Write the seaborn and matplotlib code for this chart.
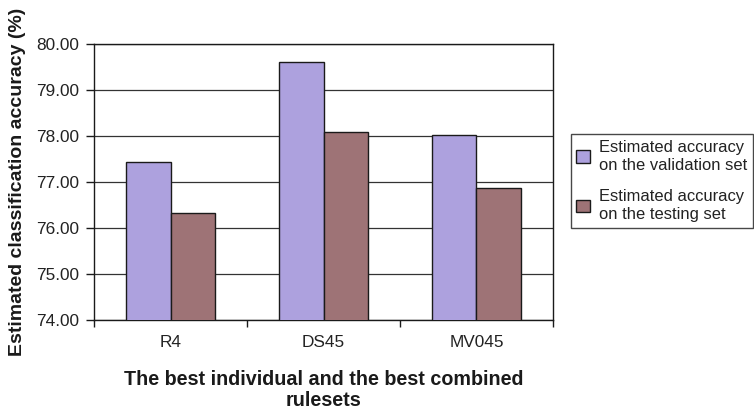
import matplotlib
matplotlib.use("Agg")
import matplotlib.pyplot as plt
import seaborn as sns
import pandas as pd

rulesets = ["R4", "DS45", "MV045"]
validation_acc = [77.43, 79.60, 78.02]
testing_acc = [76.32, 78.08, 76.88]
series_names = ["Estimated accuracy\non the validation set",
                "Estimated accuracy\non the testing set"]
y_ticks = [74, 75, 76, 77, 78, 79, 80]

df = pd.DataFrame({
    "ruleset": rulesets * 2,
    "accuracy": validation_acc + testing_acc,
    "series": [series_names[0]] * 3 + [series_names[1]] * 3,
})

sns.set_style("white")
plt.rcParams["font.family"] = ["Liberation Sans", "DejaVu Sans"]

fig = plt.figure(figsize=(7.54, 4.12), dpi=100)
ax = fig.add_axes([0.1247, 0.2233, 0.6087, 0.6699])

palette = ["#ADA1DE", "#9E7376"]
sns.barplot(data=df, x="ruleset", y="accuracy", hue="series",
            palette=palette, width=0.58, gap=0, saturation=1,
            edgecolor="#1a1a1a", linewidth=1.0, ax=ax, legend=True, zorder=3)

ax.set_ylim(74, 80)
ax.set_xlim(-0.5, 2.5)
ax.set_yticks(y_ticks)
ax.set_yticklabels([f"{v:.2f}" for v in y_ticks], fontsize=12.4, color="#222222")
ax.yaxis.grid(True, color="#333333", linewidth=0.9, zorder=0)
ax.set_axisbelow(True)

# category labels at centres, tick marks on the category boundaries
ax.tick_params(axis="x", which="major", length=0, pad=11, labelsize=12.4,
               labelcolor="#222222")
ax.set_xticks([-0.5, 0.5, 1.5, 2.5], minor=True)
ax.tick_params(axis="x", which="minor", length=5, width=1, color="#1a1a1a",
               direction="out", bottom=True)
ax.tick_params(axis="y", length=6, width=1, color="#1a1a1a", direction="out",
               left=True, pad=5)

for side in ["left", "right", "top", "bottom"]:
    ax.spines[side].set_visible(True)
    ax.spines[side].set_color("#1a1a1a")
    ax.spines[side].set_linewidth(1.0)

ax.set_xlabel("The best individual and the best combined\nrulesets",
              fontsize=14.2, fontweight="bold", color="#1a1a1a", labelpad=14,
              linespacing=1.15)
ax.set_ylabel("Estimated classification accuracy (%)", fontsize=14,
              fontweight="bold", color="#1a1a1a")
ax.yaxis.set_label_coords(-0.148, 0.5)

leg = ax.legend(loc="center left", bbox_to_anchor=(571 / 754, 1 - 181 / 412),
                bbox_transform=fig.transFigure, fontsize=11.9, frameon=True,
                fancybox=False, edgecolor="#1a1a1a", handlelength=0.8,
                handleheight=0.8, handletextpad=0.6, borderpad=0.32,
                labelspacing=0.95, borderaxespad=0)
leg.get_frame().set_linewidth(1.0)
for txt in leg.get_texts():
    txt.set_color("#222222")
    txt.set_linespacing(1.3)

fig.savefig("out.png", dpi=100)
